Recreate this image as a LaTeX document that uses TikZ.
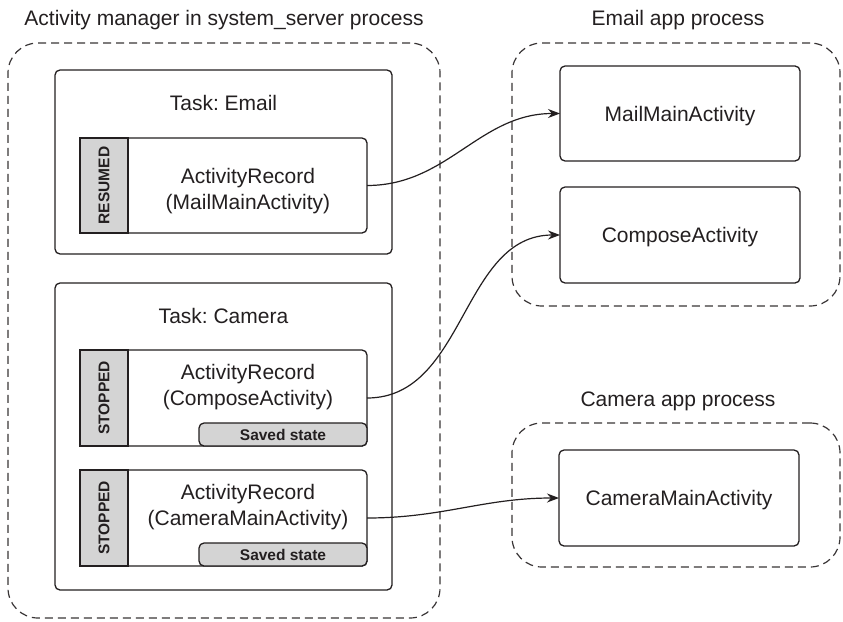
\documentclass[tikz,border=0pt]{standalone}
\usepackage{fontspec}
\setmainfont{Liberation Sans}
\usetikzlibrary{arrows.meta}
\definecolor{ink}{HTML}{231F20}
\definecolor{statefill}{HTML}{D4D4D4}
\frenchspacing
\begin{document}
\begin{tikzpicture}[x=1pt,y=-1pt,
  every node/.style={inner sep=0pt, outer sep=0pt, text=ink},
  txt/.style={font=\fontsize{21}{25}\selectfont, anchor=base},
  dashbox/.style={draw=ink!90, line width=1.2pt, dash pattern=on 8pt off 5pt, rounded corners=30pt},
  taskbox/.style={draw=ink, line width=1.3pt, rounded corners=5pt, fill=white},
  recbox/.style={draw=ink, line width=1.3pt, rounded corners=5pt, fill=white, minimum width=247pt},
  statebar/.style={draw=ink, line width=1.3pt, fill=statefill, rotate=90, minimum height=48pt, font=\bfseries\fontsize{15.5}{18}\selectfont},
  savedbox/.style={draw=ink, line width=1.3pt, rounded corners=5pt, fill=statefill, minimum width=168pt, minimum height=23pt, font=\bfseries\fontsize{15.5}{18}\selectfont},
  actbox/.style={draw=ink, line width=1.3pt, rounded corners=5pt, minimum width=240pt, font=\fontsize{21}{25}\selectfont, text height=15pt, text depth=0pt},
  arr/.style={draw=ink, line width=1.2pt, -{Stealth[length=12pt,width=9pt]}, out=0, in=180}
]
\useasboundingbox (0,0) rectangle (843,621);

% process containers
\node[dashbox, minimum width=432pt, minimum height=575pt] (amgr) at (224,330.5) {};
\node[dashbox, minimum width=328pt, minimum height=263pt] (emailproc) at (676,174.5) {};
\node[dashbox, minimum width=328pt, minimum height=144pt] (camproc) at (676,495) {};

% titles
\node[txt] (t0) at (224,25) {Activity manager in system\_server process};
\node[txt] (t1) at (678,25) {Email app process};
\node[txt] (t2) at (678,406) {Camera app process};

% tasks
\node[taskbox, minimum width=337pt, minimum height=184pt] (taskE) at (223.5,162) {};
\node[taskbox, minimum width=337pt, minimum height=307pt] (taskC) at (223.5,436.5) {};
\node[txt] (tE) at (223.5,110) {Task: Email};
\node[txt] (tC) at (223.5,323) {Task: Camera};

% record 1
\node[recbox, minimum height=95pt] (rec1) at (243.5,185.5) {};
\node[statebar, minimum width=95pt] (bar1) at (104,185.5) {RESUMED};
\node[txt] (r1a) at (248,183) {ActivityRecord};
\node[txt] (r1b) at (248,209) {(MailMainActivity)};

% record 2
\node[recbox, minimum height=96pt] (rec2) at (243.5,398) {};
\node[statebar, minimum width=96pt] (bar2) at (104,398) {STOPPED};
\node[txt] (r2a) at (248,379) {ActivityRecord};
\node[txt] (r2b) at (248,405) {(ComposeActivity)};
\node[savedbox] (saved2) at (283,434.5) {Saved state};

% record 3
\node[recbox, minimum height=96pt] (rec3) at (243.5,518) {};
\node[statebar, minimum width=96pt] (bar3) at (104,518) {STOPPED};
\node[txt] (r3a) at (248,499) {ActivityRecord};
\node[txt] (r3b) at (248,525) {(CameraMainActivity)};
\node[savedbox] (saved3) at (283,554.5) {Saved state};

% activities
\node[actbox, minimum height=95pt] (mail) at (680,113.5) {MailMainActivity};
\node[actbox, minimum height=96pt] (compose) at (680,235) {ComposeActivity};
\node[actbox, minimum height=96pt] (cammain) at (679,498) {CameraMainActivity};

% connectors
\draw[arr] (rec1.east) to (mail.west);
\draw[arr] (rec2.east) to (compose.west);
\draw[arr] (rec3.east) to (cammain.west);
\end{tikzpicture}
\end{document}
